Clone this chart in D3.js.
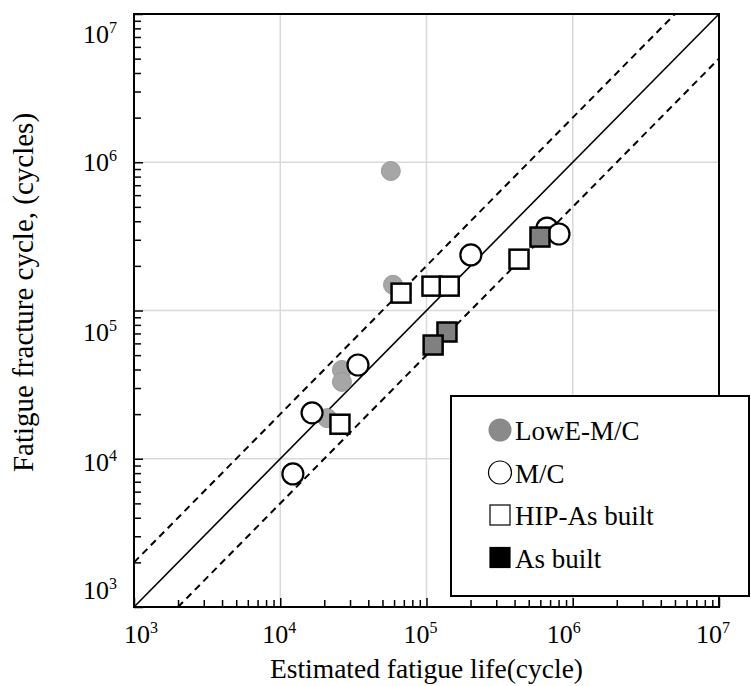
<!DOCTYPE html>
<html>
<head>
<meta charset="utf-8">
<script src="https://cdn.jsdelivr.net/npm/d3@7"></script>
<style>
  body { margin: 0; background: #fff; }
</style>
</head>
<body>
<div id="chart-container"></div>
<script>
const width = 751;
const height = 686;
const margin = { top: 14, right: 32, bottom: 79, left: 134 };

// Estimated fatigue life (x) vs. fatigue fracture cycle (y)
const lowEx = [5.7e4, 5.9e4, 2.64e4, 2.64e4, 2.09e4];
const lowEy = [8.73e5, 1.49e5, 3.97e4, 3.3e4, 1.88e4];

const mcX = [3.4e4, 1.65e4, 1.22e4, 2.01e5, 6.67e5, 8.05e5];
const mcY = [4.29e4, 2.04e4, 7.9e3, 2.37e5, 3.6e5, 3.28e5];

const hipX = [6.7e4, 1.09e5, 1.43e5, 4.29e5, 2.56e4];
const hipY = [1.31e5, 1.46e5, 1.46e5, 2.22e5, 1.71e4];

const asBuiltX = [5.97e5, 1.38e5, 1.11e5];
const asBuiltY = [3.13e5, 7.16e4, 5.85e4];

const decades = [1e3, 1e4, 1e5, 1e6, 1e7];
const exponents = ["3", "4", "5", "6", "7"];
const bandFactors = [0.5, 1, 2]; // scatter band lines: N = k * Nest

const legendLabels = ["LowE-M/C", "M/C", "HIP-As built", "As built"];

const x = d3.scaleLog([1e3, 1e7], [margin.left, width - margin.right]);
const y = d3.scaleLog([1e3, 1e7], [height - margin.bottom, margin.top]);

const minor = [];
for (let d = 1e3; d < 1e7; d *= 10) for (let k = 2; k <= 9; k++) minor.push(d * k);

const svg = d3.select("#chart-container")
    .append("svg")
    .attr("width", width)
    .attr("height", height)
    .attr("viewBox", [0, 0, width, height])
    .attr("font-family", "'Liberation Serif', 'Times New Roman', Times, serif");

// grid
svg.append("g")
    .attr("stroke", "#d9d9d9")
    .attr("stroke-width", 1.5)
    .selectAll("g")
    .data(decades.slice(1, -1))
    .join(enter => {
      const g = enter.append("g");
      g.append("line").attr("x1", d => x(d)).attr("x2", d => x(d)).attr("y1", y(1e3)).attr("y2", y(1e7));
      g.append("line").attr("y1", d => y(d)).attr("y2", d => y(d)).attr("x1", x(1e3)).attr("x2", x(1e7));
      return g;
    });

// axes, ticks pointing inward
const bottom = height - margin.bottom;
svg.append("g")
    .attr("transform", `translate(0,${bottom})`)
    .call(d3.axisBottom(x).tickValues(minor).tickSizeInner(-7).tickSizeOuter(0).tickFormat(""))
    .call(g => g.select(".domain").remove());
svg.append("g")
    .attr("transform", `translate(0,${bottom})`)
    .call(d3.axisBottom(x).tickValues(decades).tickSizeInner(-9).tickSizeOuter(0).tickFormat(""))
    .call(g => g.select(".domain").remove());
svg.append("g")
    .attr("transform", `translate(${margin.left},0)`)
    .call(d3.axisLeft(y).tickValues(minor).tickSizeInner(-7).tickSizeOuter(0).tickFormat(""))
    .call(g => g.select(".domain").remove());
svg.append("g")
    .attr("transform", `translate(${margin.left},0)`)
    .call(d3.axisLeft(y).tickValues(decades).tickSizeInner(-9).tickSizeOuter(0).tickFormat(""))
    .call(g => g.select(".domain").remove());
svg.selectAll(".tick line").attr("stroke", "#000").attr("stroke-width", 1.5);

// tick labels 10^n
const xShift = [7, -1, -6, -9, -6];
const yShift = [-17, 3, 21, 0, 20];
svg.append("g").selectAll("text")
    .data(decades)
    .join("text")
    .attr("x", (d, i) => x(d) + xShift[i])
    .attr("y", bottom + 36)
    .attr("text-anchor", "middle")
    .attr("font-size", 26)
    .call(t => t.append("tspan").text("10"))
    .call(t => t.append("tspan").attr("font-size", 16).attr("dy", -10).text((d, i) => exponents[i]));
svg.append("g").selectAll("text")
    .data(decades)
    .join("text")
    .attr("x", margin.left - 17)
    .attr("y", (d, i) => y(d) + yShift[i] + 9)
    .attr("text-anchor", "end")
    .attr("font-size", 26)
    .call(t => t.append("tspan").text("10"))
    .call(t => t.append("tspan").attr("font-size", 16).attr("dy", -10).text((d, i) => exponents[i]));

// axis titles
svg.append("text")
    .attr("x", (x(1e3) + x(1e7)) / 2)
    .attr("y", 678)
    .attr("text-anchor", "middle")
    .attr("font-size", 27.5)
    .text("Estimated fatigue life(cycle)");
svg.append("text")
    .attr("transform", `translate(33,${(y(1e3) + y(1e7)) / 2 - 18}) rotate(-90)`)
    .attr("text-anchor", "middle")
    .attr("font-size", 29)
    .text("Fatigue fracture cycle, (cycles)");

// band lines
const line = d3.line().x(d => x(d[0])).y(d => y(d[1]));
svg.append("g")
    .attr("fill", "none")
    .attr("stroke", "#000")
    .selectAll("path")
    .data(bandFactors)
    .join("path")
    .attr("stroke-width", k => k === 1 ? 1.6 : 2)
    .attr("stroke-dasharray", k => k === 1 ? null : "7,5")
    .attr("d", k => {
      const x0 = Math.max(1e3, 1e3 / k), x1 = Math.min(1e7, 1e7 / k);
      return line([[x0, x0 * k], [x1, x1 * k]]);
    });

// frame
svg.append("rect")
    .attr("x", x(1e3)).attr("y", y(1e7))
    .attr("width", x(1e7) - x(1e3)).attr("height", y(1e3) - y(1e7))
    .attr("fill", "none").attr("stroke", "#000").attr("stroke-width", 2);

// points
const pts = (xs, ys) => xs.map((v, i) => [v, ys[i]]);
svg.append("g").selectAll("circle")
    .data(pts(lowEx, lowEy))
    .join("circle")
    .attr("cx", d => x(d[0])).attr("cy", d => y(d[1])).attr("r", 9.5)
    .attr("fill", "#a6a6a6").attr("stroke", "#9a9a9a").attr("stroke-width", 1);
svg.append("g").selectAll("circle")
    .data(pts(mcX, mcY))
    .join("circle")
    .attr("cx", d => x(d[0])).attr("cy", d => y(d[1])).attr("r", 10.5)
    .attr("fill", "#fff").attr("stroke", "#000").attr("stroke-width", 2.2);
const sq = 19;
svg.append("g").selectAll("rect")
    .data(pts(hipX, hipY))
    .join("rect")
    .attr("x", d => x(d[0]) - sq / 2).attr("y", d => y(d[1]) - sq / 2)
    .attr("width", sq).attr("height", sq)
    .attr("fill", "#fff").attr("stroke", "#000").attr("stroke-width", 2.5);
svg.append("g").selectAll("rect")
    .data(pts(asBuiltX, asBuiltY))
    .join("rect")
    .attr("x", d => x(d[0]) - sq / 2).attr("y", d => y(d[1]) - sq / 2)
    .attr("width", sq).attr("height", sq)
    .attr("fill", "#808080").attr("stroke", "#000").attr("stroke-width", 2.5);

// legend
const legend = svg.append("g").attr("transform", "translate(451,396)");
legend.append("rect")
    .attr("width", 298).attr("height", 200)
    .attr("fill", "#fff").attr("stroke", "#000").attr("stroke-width", 2);
const item = legend.selectAll("g")
    .data(legendLabels)
    .join("g")
    .attr("transform", (d, i) => `translate(49,${34 + i * 42.5})`);
item.filter((d, i) => i < 2).append("circle")
    .attr("r", 11.5)
    .attr("fill", (d, i) => i === 0 ? "#8a8a8a" : "#fff")
    .attr("stroke", (d, i) => i === 0 ? "none" : "#000")
    .attr("stroke-width", 1.2);
item.filter((d, i) => i >= 2).append("rect")
    .attr("x", -10).attr("y", -10).attr("width", 20).attr("height", 20)
    .attr("fill", (d, i) => i === 0 ? "#fff" : "#000")
    .attr("stroke", "#000").attr("stroke-width", 1.2);
item.append("text")
    .attr("x", 15).attr("y", 10)
    .attr("font-size", 27)
    .text(d => d);
</script>
</body>
</html>
